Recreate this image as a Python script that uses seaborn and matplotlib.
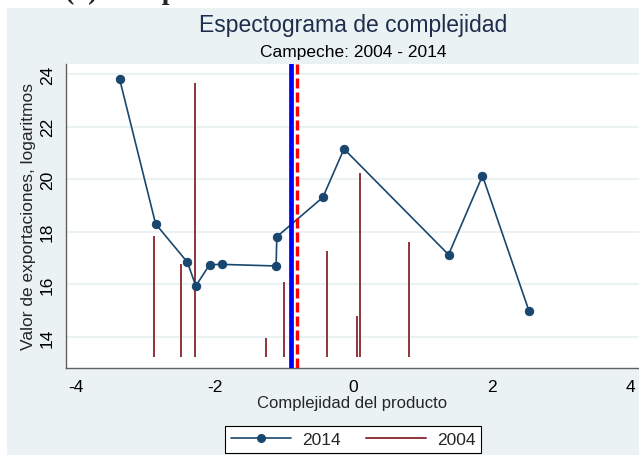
import numpy as np, pandas as pd
import matplotlib
matplotlib.use("Agg")
import matplotlib.pyplot as plt
from matplotlib.lines import Line2D
from matplotlib.patches import Rectangle
import seaborn as sns

# 2014: linea con puntos
complejidad_2014 = [-3.37, -2.85, -2.39, -2.27, -2.07, -1.89, -1.11, -1.10, -0.435, -0.13, 1.38, 1.87, 2.54]
export_2014 = [23.81, 18.30, 16.84, 15.94, 16.75, 16.76, 16.70, 17.81, 19.31, 21.15, 17.13, 20.13, 15.00]

# 2004: espigas
complejidad_2004 = [-2.87, -2.49, -2.28, -1.26, -0.99, -0.38, 0.06, 0.10, 0.81]
export_2004 = [17.83, 16.78, 23.66, 13.96, 16.10, 17.26, 14.81, 20.24, 17.60]
base_2004 = 13.23

# complejidad promedio
promedio_2014 = -0.90
promedio_2004 = -0.81

xticks = [-4, -2, 0, 2, 4]
yticks = [14, 16, 18, 20, 22, 24]

navy = "#1A476F"
maroon = "#90353B"
fondo = "#EAF2F3"

sns.set_style("white")
plt.rcParams['font.family'] = ['Liberation Sans', 'DejaVu Sans']
plt.rcParams['axes.unicode_minus'] = False

fig = plt.figure(figsize=(6.39, 4.56), dpi=100, facecolor="white")
fondo_rect = Rectangle((7 / 639, 0), 1, (456 - 9) / 456, transform=fig.transFigure,
                       facecolor=fondo, edgecolor="none", zorder=-5)
fig.add_artist(fondo_rect)

ax = fig.add_axes([66 / 639, 87 / 456, 1 - 66 / 639, 304 / 456])
ax.set_zorder(2)
ax.set_facecolor("white")

df14 = pd.DataFrame({"x": complejidad_2014, "y": export_2014})
ax.vlines(complejidad_2004, base_2004, export_2004, color=maroon, lw=1.4, zorder=2)
sns.lineplot(data=df14, x="x", y="y", ax=ax, color=navy, marker="o", markersize=6,
             markeredgecolor=navy, lw=1.2, sort=False, zorder=3)
ax.axvline(promedio_2014, color="#0000FF", lw=3.4, zorder=4)
ax.axvline(promedio_2004, color="#FF0000", lw=2.4, ls=(0, (3.0, 1.2)), zorder=4)

ax.set_xlim(-4.144, 4.13)
ax.set_ylim(12.82, 24.38)
ax.set_xticks(xticks)
ax.set_yticks(yticks)
ax.set_yticklabels([str(t) for t in yticks], rotation=90, va="center")
ax.yaxis.grid(True, color=fondo, lw=1.5)
ax.set_axisbelow(True)
for s in ["top", "right"]:
    ax.spines[s].set_visible(False)
for s in ["left", "bottom"]:
    ax.spines[s].set_color("#606060")
    ax.spines[s].set_linewidth(1.0)
ax.tick_params(axis="both", direction="out", length=5, width=1, color="#606060",
               labelsize=12.5, labelcolor="black", pad=3)
ax.set_xlabel("Complejidad del producto", fontsize=12, labelpad=1)
ax.set_ylabel("Valor de exportaciones, logaritmos", fontsize=12.5, labelpad=3)

fig.text(65 / 639, 1 + 1 / 456, "(a) Campeche", family="Liberation Serif", weight="bold",
         fontsize=20, va="baseline", ha="left")
fig.text(353 / 639, 1 - 32 / 456, "Espectograma de complejidad", fontsize=16.5,
         color="#1E2D4C", ha="center", va="baseline")
fig.text(353 / 639, 1 - 57 / 456, "Campeche: 2004 - 2014", fontsize=12.5,
         color="black", ha="center", va="baseline")

handles = [Line2D([], [], color=navy, marker="o", markersize=5.5, lw=1.2),
           Line2D([], [], color=maroon, lw=1.4)]
leg = fig.legend(handles, ["2014", "2004"], loc="center", bbox_to_anchor=(353 / 639, 1 - 440.5 / 456),
                 ncol=2, frameon=True, fancybox=False, fontsize=12.5, handlelength=3.5,
                 handletextpad=0.6, columnspacing=1.45, borderpad=0.35, edgecolor="black",
                 framealpha=1)
leg.get_frame().set_linewidth(0.8)

fig.savefig("out.png", dpi=100, facecolor=fig.get_facecolor())
